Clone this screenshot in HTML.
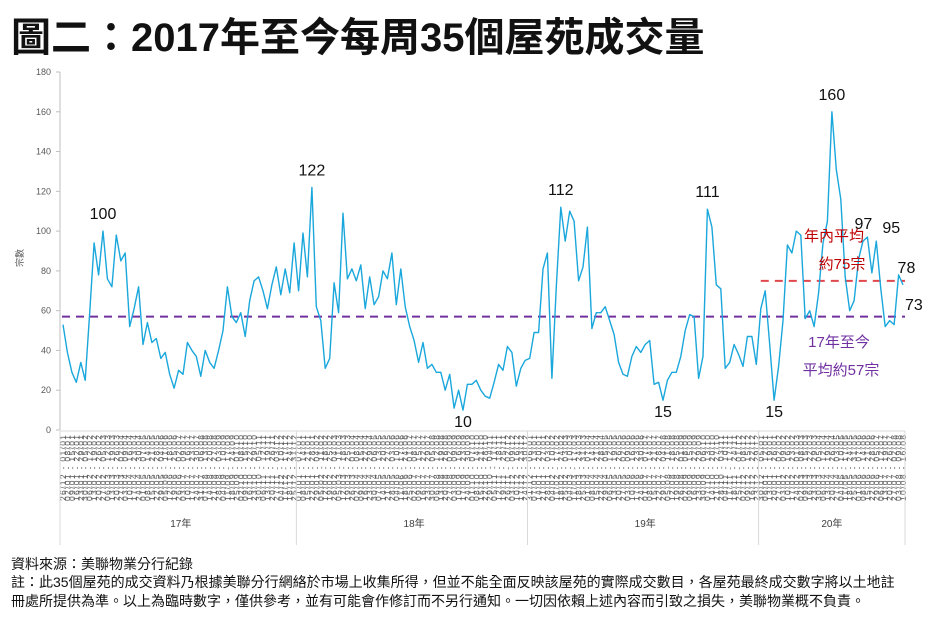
<!DOCTYPE html>
<html><head><meta charset="utf-8"><style>
body{margin:0;background:#fff;width:944px;height:623px;overflow:hidden;font-family:"Liberation Sans","Noto Sans CJK TC",sans-serif}
#title{position:absolute;left:11px;top:5px;font-size:40px;font-weight:bold;color:#111;white-space:nowrap}
.foot{position:absolute;left:11px;font-size:14px;color:#111;white-space:nowrap}
svg{position:absolute;left:0;top:0}
</style></head><body>
<div id="title">圖二：2017年至今每周35個屋苑成交量</div>
<svg id="chart" width="944" height="623"></svg>
<div class="foot" style="top:554px">資料來源：美聯物業分行紀錄</div>
<div class="foot" style="top:572px">註：此35個屋苑的成交資料乃根據美聯分行網絡於市場上收集所得，但並不能全面反映該屋苑的實際成交數目，各屋苑最終成交數字將以土地註</div>
<div class="foot" style="top:591px">冊處所提供為準。以上為臨時數字，僅供參考，並有可能會作修訂而不另行通知。一切因依賴上述內容而引致之損失，美聯物業概不負責。</div>
<script>
const values = [53,39,29,24,34,25,59,94,78,100,76,72,98,85,89,52,61,72,43,54,44,46,36,39,28,21,30,28,44,40,37,27,40,34,31,40,50,72,57,54,59,47,65,75,77,70,61,73,82,68,81,69,94,70,99,77,122,62,55,31,36,74,59,109,76,81,75,83,61,77,63,67,80,76,89,63,81,62,52,45,34,44,31,33,29,29,20,28,11,20,10,23,23,25,20,17,16,24,33,30,42,39,22,31,35,36,49,49,81,89,26,72,112,95,110,105,75,82,102,51,59,59,62,55,48,34,28,27,37,42,39,43,45,23,24,15,25,29,29,37,50,58,57,26,37,111,102,73,71,31,34,43,38,32,47,47,33,61,70,43,15,32,55,93,89,100,98,56,60,52,69,94,105,160,131,116,77,60,65,86,95,97,79,95,71,52,55,53,78,73];
const yTicks = [0,20,40,60,80,100,120,140,160,180];
const yearLabels = ["17年","18年","19年","20年"];
const yearStartIdx = [0,53,105,157];
const overallAvg = 57;
const yearAvg = 75;
const annotationIdx = [9,56,90,112,135,145,160,173,181,183,188,189];
const categories = [];
(function(){let d=new Date(Date.UTC(2016,11,26));const f=x=>String(x.getUTCDate()).padStart(2,'0')+'/'+String(x.getUTCMonth()+1).padStart(2,'0');
for(let i=0;i<values.length;i++){const e=new Date(d.getTime()+6*864e5);categories.push(f(d)+' - '+f(e));d=new Date(d.getTime()+7*864e5);}})();

const NS="http://www.w3.org/2000/svg";
const svg=document.getElementById('chart');
const X0=63,X1=903,Y0=430,Y1=72,YMAX=180;
const xs=i=>X0+(X1-X0)*i/(values.length-1);
const ys=v=>Y0-(Y0-Y1)*v/YMAX;
function el(t,a,txt){const e=document.createElementNS(NS,t);for(const k in a)e.setAttribute(k,a[k]);if(txt!==undefined)e.textContent=txt;svg.appendChild(e);return e;}

let ax=el('line',{x1:X0-3,y1:Y1,x2:X0-3,y2:Y0,stroke:'#bfbfbf','stroke-width':1});


yTicks.forEach(t=>{
 const tk=el('line',{x1:X0-7,x2:X0-3,y1:ys(t),y2:ys(t),stroke:'#bfbfbf'});
 
 
 const lb=el('text',{x:X0-12,y:ys(t)+3,'text-anchor':'end','font-size':9,fill:'#595959'},t);
 
 
});
const yt=el('text',{x:0,y:0,transform:'translate(23,258) rotate(-90)','text-anchor':'middle','font-size':9,fill:'#595959'},'宗數');



const xa=el('line',{x1:X0-3,x2:X1+2,y1:Y0+1,y2:Y0+1,stroke:'#d9d9d9'});


categories.forEach((c,i)=>{
 const t=el('text',{x:0,y:0,transform:`translate(${xs(i)+3},${Y0+5}) rotate(-90)`,'text-anchor':'end','font-size':8.5,fill:'#595959',textLength:66,lengthAdjust:'spacing'},c);
 
 
});
const bounds=yearStartIdx.concat([values.length]);
bounds.forEach((b,k)=>{
 const xx=k==0?X0-3:(k==bounds.length-1?X1+2:xs(b)-2.2);
 const s=el('line',{x1:xx,x2:xx,y1:Y0+1,y2:545,stroke:'#d9d9d9'});
 
 
});
yearLabels.forEach((y,k)=>{
 const a=xs(yearStartIdx[k]),b=k<yearLabels.length-1?xs(yearStartIdx[k+1]):X1;
 const t=el('text',{x:(a+b)/2,y:527,'text-anchor':'middle','font-size':10,fill:'#404040'},y);
 
 
});

const la=el('line',{x1:X0-1,x2:X1+2,y1:ys(overallAvg),y2:ys(overallAvg),stroke:'#7030a0','stroke-width':2,'stroke-dasharray':'8,6'});


const lr=el('line',{x1:xs(yearStartIdx[3]),x2:X1+2,y1:ys(yearAvg),y2:ys(yearAvg),stroke:'#e0474c','stroke-width':2,'stroke-dasharray':'8,6'});



const pl=el('polyline',{points:values.map((v,i)=>xs(i).toFixed(1)+','+ys(v).toFixed(1)).join(' '),fill:'none',stroke:'#1aa7dc','stroke-width':1.4,'stroke-linejoin':'round'});



annotationIdx.forEach((i,k)=>{
 const v=values[i];
 let dx=0,dy=-12,anc='middle';
 if(v<=15){dy=17;}
 if(k==8){dx=-4;dy=-8;}
 if(k==9){dx=6;dy=-8;anc='start';}
 if(k==10){dx=-1;dy=-2;anc='start';}
 if(k==11){dx=2;dy=25;anc='start';}
 const t=el('text',{x:xs(i)+dx,y:ys(v)+dy,'text-anchor':anc,'font-size':16,fill:'#111'},v);
 
 
});
[['年內平均',834,241,'#c00000'],['約75宗',842,269,'#c00000'],['17年至今',839,347,'#7030a0'],['平均約57宗',841,375,'#7030a0']].forEach(([s,x,y,c])=>{
 const t=el('text',{x:x,y:y,'text-anchor':'middle','font-size':15,fill:c},s);
 
 
});
</script>
</body></html>
